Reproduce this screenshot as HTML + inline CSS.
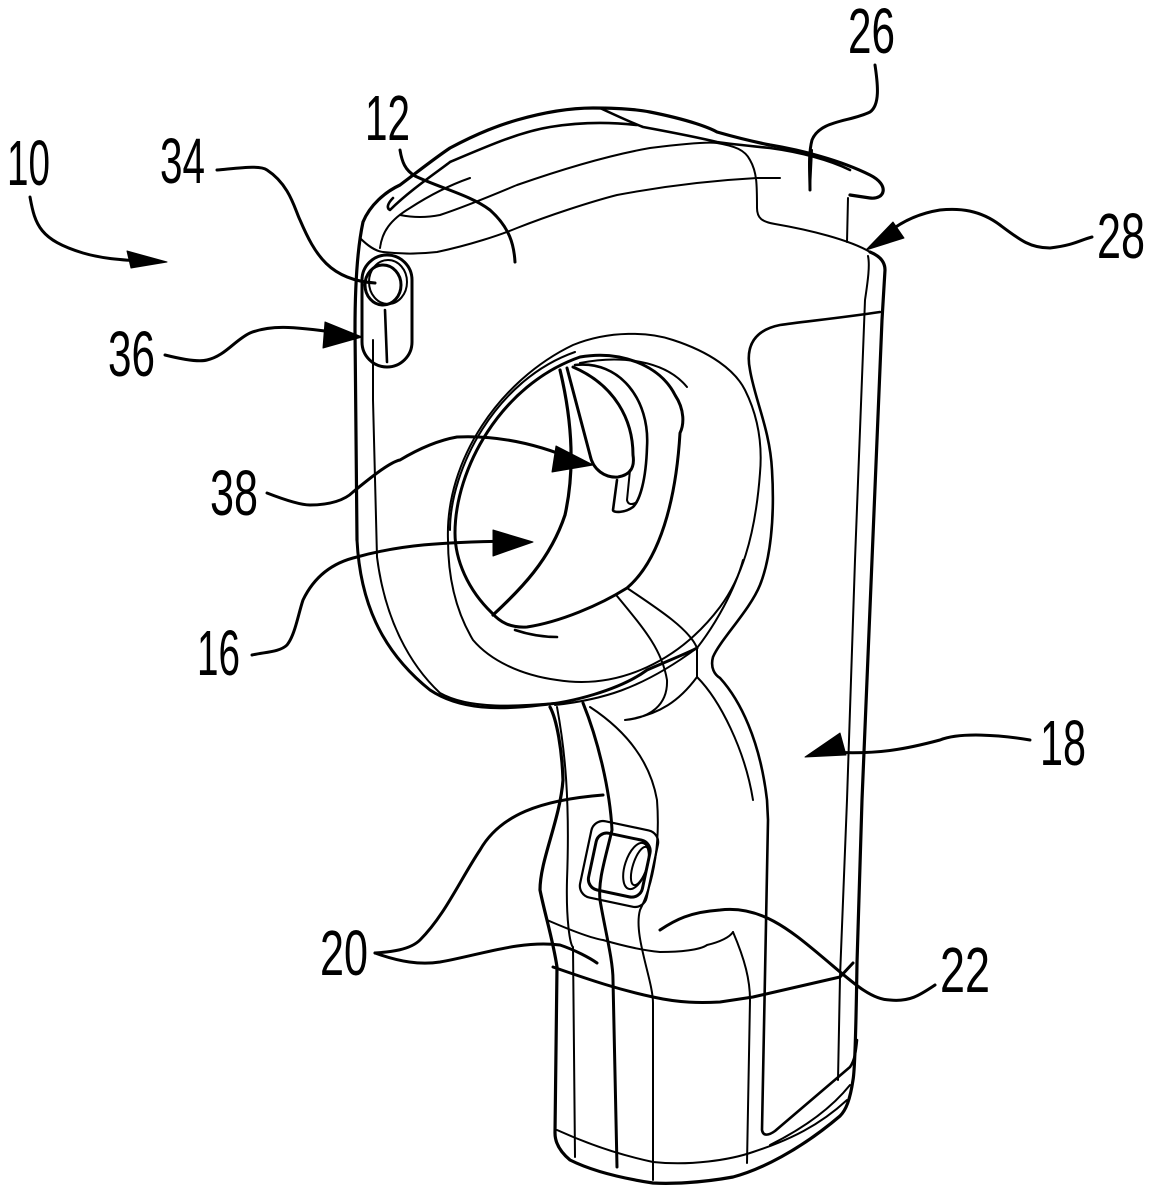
<!DOCTYPE html>
<html><head><meta charset="utf-8"><style>
html,body{margin:0;padding:0;background:#fff;}
svg{display:block;}
text{font-family:"Liberation Sans",sans-serif;font-size:64px;fill:#000;}
</style></head><body>
<svg width="1153" height="1200" viewBox="0 0 1153 1200" xmlns="http://www.w3.org/2000/svg">
<g fill="none" stroke="#000" stroke-linecap="round" stroke-linejoin="round">
<!-- top outer -->
<path stroke-width="3.2" d="M357,540 L355,330 C355,290 357,250 363,222 C370,205 385,192 400,185 C420,170 435,158 450,148 C480,132 500,125 517,120 C545,112 570,108 593,108 C620,108 640,110 650,112 C690,120 710,128 717,132 C745,140 760,143 770,145 C800,150 840,160 870,175 C890,185 885,200 870,198 L850,195"/>
<path stroke-width="2.6" d="M600,108 C615,115 630,122 643,127 C670,132 700,138 717,142 C730,144 740,145 770,148 C800,152 830,160 850,170"/>
<path stroke-width="2.6" d="M393,198 C388,203 386,208 390,210 C410,190 440,170 450,162 C490,145 520,132 550,127 C580,122 610,122 637,125"/>
<path stroke-width="2" d="M400,215 C415,218 430,217 440,215 C470,205 500,192 517,185 C560,170 610,155 650,148 C690,143 710,142 717,143 C735,146 745,150 750,160 C757,172 757,185 757,208 C757,218 762,222 775,224 C810,230 850,240 870,252"/>
<path stroke-width="2" d="M360,238 C368,246 375,251 383,252 C400,254 420,254 437,252 C470,245 500,235 517,228 C550,215 590,202 617,195 C670,185 720,180 757,178 L780,178"/>
<path stroke-width="2" d="M380,248 C382,232 390,220 410,208 C430,195 450,185 470,178"/>
<path stroke-width="2" d="M810,190 L812,150"/>
<path stroke-width="2" d="M848,198 L847,242"/>
<!-- right side -->
<path stroke-width="3.2" d="M870,252 C880,256 885,262 885,270 L882,320 L872,560 L862,800 L857,963 C856,1030 855,1070 853,1080 C850,1100 846,1110 840,1116 C800,1150 760,1170 733,1177 C700,1183 670,1184 653,1183 C620,1178 590,1170 570,1160 C558,1150 555,1140 555,1133 L557,967 C553,940 545,915 540,890 C540,860 560,820 563,780 C562,750 557,720 550,707"/>
<path stroke-width="2" d="M868,256 C870,265 868,280 865,300 L855,560 L847,800 L840,977 L838,1080"/>
<!-- rear panel line -->
<path stroke-width="2.6" d="M880,312 C840,318 800,322 780,325 C755,330 745,345 750,370 C755,400 770,430 772,470 C775,520 770,560 760,585 C750,610 720,640 713,657 C710,668 715,675 720,678 C740,700 760,740 767,800 L768,820 L762,1130 C763,1136 768,1136 775,1131 L850,1067 C855,1060 856,1050 857,1040"/>
<path stroke-width="2" d="M743,560 C735,590 715,625 697,648 L697,677 C720,700 745,750 753,800"/>
<!-- left body -->
<path stroke-width="3" d="M357,540 C360,600 380,650 430,690 C460,710 500,710 540,705 C570,703 620,690 647,670 C670,660 690,652 697,648"/>
<path stroke-width="2" d="M373,340 L373,400 L377,557 C385,620 410,665 440,693 C470,710 520,706 555,703"/>
<!-- torus outer -->
<path stroke-width="2" d="M448,540 C445,460 500,380 573,345 C610,330 650,332 673,340 C710,352 735,370 745,390 C760,420 762,450 760,473 C755,540 740,580 720,607 C680,660 620,690 557,680 C520,675 490,660 473,640 C455,610 448,575 448,540 Z"/>
<!-- opening -->
<path stroke-width="3" d="M455,533 C455,470 500,385 580,357 C620,350 660,365 675,395 C685,410 684,425 680,433 C676,500 660,560 627,588 C600,605 560,622 527,627 C510,628 500,622 492,613 C468,590 455,560 455,533 Z"/>
<path stroke-width="2" d="M450,530 C450,470 495,380 575,352"/>
<path stroke-width="3.2" d="M560,370 C572,420 575,470 565,515 C550,560 520,590 493,615"/>
<path stroke-width="2.6" d="M515,630 C530,635 545,637 557,637"/>
<path stroke-width="2" d="M580,363 C620,355 665,360 687,387"/>
<!-- slot -->
<path stroke-width="3" d="M567,368 L590,455 C593,470 605,478 618,477 C630,475 635,468 633,455 C633,420 615,385 573,367"/>
<path stroke-width="2.6" d="M575,365 C620,360 650,400 647,447 C646,480 640,500 633,507 C625,513 613,513 613,510 L617,480"/>
<path stroke-width="2" d="M630,470 L627,500 C628,505 632,505 637,502"/>
<!-- torus neck -->
<path stroke-width="2" d="M627,588 C660,610 690,630 697,648 M617,596 C645,630 662,650 667,680 C668,705 650,718 625,720 M697,677 C680,700 660,715 625,720 M555,705 C600,700 640,690 697,648"/>
<!-- grip interior -->
<path stroke-width="2" d="M557,707 C565,750 570,800 567,880 C566,920 570,945 573,947 L575,1157"/>
<path stroke-width="3" d="M583,703 C598,740 610,790 612,830 C605,860 598,880 600,900 C605,930 613,960 613,980 L617,1167"/>
<path stroke-width="2" d="M590,707 C625,730 650,760 657,800 C660,840 655,880 640,910 C633,935 653,980 653,1003 L653,1180"/>
<path stroke-width="2" d="M733,932 C745,960 750,980 750,1000 L747,1163"/>
<path stroke-width="2" d="M547,920 C570,930 590,938 603,940 C620,945 640,950 660,952 C680,952 700,950 707,945 C720,942 730,937 733,932"/>
<path stroke-width="3" d="M553,967 C590,980 620,990 653,997 C680,1003 700,1003 720,1002 L753,997 L840,977 L853,963"/>
<path stroke-width="2" d="M557,1130 C590,1145 620,1155 653,1162 C690,1166 730,1160 753,1152 C790,1140 820,1125 847,1100"/>
<path stroke-width="2" d="M850,1085 C830,1110 800,1130 770,1145"/>
<!-- button on grip -->
<rect x="585" y="825" width="68" height="78" rx="12" ry="12" stroke-width="2.2" transform="rotate(12 619 864)"/>
<rect x="592" y="836" width="55" height="58" rx="11" ry="11" stroke-width="3" transform="rotate(12 619 864)"/>
<ellipse cx="640" cy="866" rx="7" ry="20" stroke-width="2" transform="rotate(18 640 866)"/>
<ellipse cx="636" cy="866" rx="11" ry="24" stroke-width="2" transform="rotate(18 636 866)"/>
<!-- button 34/36 -->
<rect x="362" y="255" width="50" height="112" rx="25" ry="25" stroke-width="3"/>
<ellipse cx="383" cy="285" rx="18" ry="20" stroke-width="3"/>
<ellipse cx="388" cy="282" rx="19" ry="22" stroke-width="2"/>
<path stroke-width="2.6" d="M385,310 L387,362"/>
<!-- leaders -->
<path stroke-width="3" d="M30,197 C35,225 40,240 83,253 C100,258 115,260 160,262"/>
<polygon points="167,262 127,251 131,268" fill="#000" stroke-width="1"/>
<path stroke-width="3" d="M217,170 C240,168 260,165 267,170 C290,185 295,210 300,220 C315,255 330,280 375,283"/>
<path stroke-width="3" d="M400,150 C402,162 405,170 415,176 C440,188 470,195 490,210 C510,228 514,245 515,262"/>
<path stroke-width="3" d="M875,65 C878,85 880,105 870,112 C850,122 820,120 812,140 C808,155 810,175 810,190"/>
<path stroke-width="3" d="M1092,237 C1080,240 1075,245 1050,248 C1030,248 1020,240 1000,225 C980,210 960,208 940,210 C915,214 895,225 880,240"/>
<polygon points="866,250 893,222 904,238" fill="#000" stroke-width="1"/>
<path stroke-width="3" d="M165,355 C185,360 200,362 207,360 C225,356 235,340 250,333 C270,325 290,326 340,333"/>
<polygon points="362,337 325,322 323,348" fill="#000" stroke-width="1"/>
<path stroke-width="3" d="M267,493 C285,500 300,505 310,505 C330,505 345,500 353,492 C370,478 390,462 400,460 C420,448 440,440 457,437 C500,435 540,445 575,460"/>
<polygon points="593,465 556,446 552,472" fill="#000" stroke-width="1"/>
<path stroke-width="3" d="M252,655 C265,652 280,652 287,645 C295,635 298,615 303,600 C315,575 335,562 357,557 C400,545 440,542 515,541"/>
<polygon points="533,542 493,530 493,556" fill="#000" stroke-width="1"/>
<path stroke-width="3" d="M1030,740 C1000,735 960,732 940,740 C910,748 880,755 830,752"/>
<polygon points="805,757 840,733 846,755" fill="#000" stroke-width="1"/>
<path stroke-width="3" d="M375,953 C390,952 410,950 420,940 C445,915 460,880 480,850 C500,815 540,800 603,795"/>
<path stroke-width="3" d="M375,953 C400,962 420,965 440,962 C480,955 520,940 560,945 C575,950 590,958 597,963"/>
<path stroke-width="3" d="M660,930 C675,920 690,912 720,910 C760,905 790,930 820,955 C850,980 870,1000 890,1000 C910,1002 920,995 935,985"/>
</g>
<g>
<text x="7" y="185" textLength="43" lengthAdjust="spacingAndGlyphs">10</text>
<text x="365" y="140" textLength="45" lengthAdjust="spacingAndGlyphs">12</text>
<text x="848" y="53" textLength="47" lengthAdjust="spacingAndGlyphs">26</text>
<text x="160" y="183" textLength="45" lengthAdjust="spacingAndGlyphs">34</text>
<text x="1097" y="258" textLength="48" lengthAdjust="spacingAndGlyphs">28</text>
<text x="108" y="376" textLength="47" lengthAdjust="spacingAndGlyphs">36</text>
<text x="210" y="515" textLength="48" lengthAdjust="spacingAndGlyphs">38</text>
<text x="197" y="675" textLength="43" lengthAdjust="spacingAndGlyphs">16</text>
<text x="1040" y="765" textLength="46" lengthAdjust="spacingAndGlyphs">18</text>
<text x="320" y="975" textLength="48" lengthAdjust="spacingAndGlyphs">20</text>
<text x="940" y="992" textLength="50" lengthAdjust="spacingAndGlyphs">22</text>
</g>
</svg>
</body></html>
